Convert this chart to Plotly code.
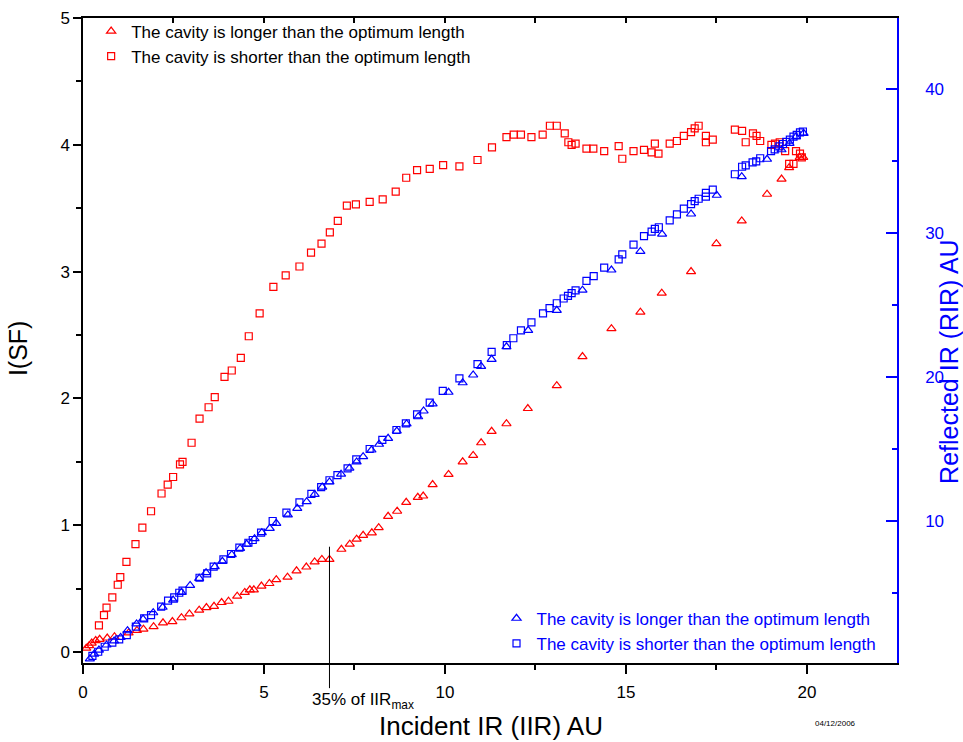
import plotly.graph_objects as go

# Incident IR (AU) and I(SF) for the cavity longer than the optimum length
long_iir_sf = [0.09, 0.17, 0.24, 0.35, 0.46, 0.67, 0.87, 1.26, 1.49, 1.67,
               1.95, 2.21, 2.47, 2.72, 2.94, 3.21, 3.41, 3.62, 3.83, 4.02,
               4.26, 4.47, 4.61, 4.72, 4.93, 5.15, 5.34, 5.65, 5.90, 6.17,
               6.40, 6.60, 6.81, 7.14, 7.37, 7.56, 7.74, 7.98, 8.17, 8.43,
               8.68, 8.93, 9.25, 9.40, 9.66, 10.10, 10.49, 10.78, 11.00, 11.29,
               11.70, 12.29, 13.09, 13.80, 14.60, 15.40, 15.99, 16.80, 17.50, 18.20,
               18.90, 19.30, 19.51, 19.80, 19.90]
long_sf = [0.03, 0.05, 0.07, 0.09, 0.10, 0.11, 0.12, 0.15, 0.17, 0.18,
           0.20, 0.23, 0.24, 0.27, 0.30, 0.33, 0.35, 0.36, 0.39, 0.40,
           0.44, 0.47, 0.49, 0.49, 0.52, 0.54, 0.57, 0.59, 0.64, 0.67,
           0.71, 0.73, 0.73, 0.81, 0.85, 0.89, 0.92, 0.94, 0.98, 1.07,
           1.11, 1.18, 1.22, 1.23, 1.32, 1.40, 1.50, 1.55, 1.65, 1.74,
           1.80, 1.92, 2.10, 2.33, 2.55, 2.68, 2.83, 3.00, 3.22, 3.40,
           3.61, 3.73, 3.82, 3.90, 3.90]

# Incident IR (AU) and I(SF) for the cavity shorter than the optimum length
short_iir_sf = [0.44, 0.58, 0.65, 0.81, 0.96, 1.03, 1.20, 1.45, 1.64, 1.88,
                2.17, 2.34, 2.49, 2.68, 2.75, 3.00, 3.22, 3.47, 3.64, 3.91,
                4.11, 4.36, 4.58, 4.88, 5.26, 5.60, 5.98, 6.30, 6.59, 6.82,
                7.04, 7.29, 7.54, 7.92, 8.28, 8.64, 8.93, 9.23, 9.58, 9.95,
                10.40, 10.90, 11.30, 11.70, 11.90, 12.10, 12.39, 12.70, 12.90, 13.09,
                13.31, 13.41, 13.50, 13.61, 13.91, 14.10, 14.40, 14.80, 14.90, 15.21,
                15.50, 15.71, 15.80, 15.90, 16.21, 16.41, 16.60, 16.80, 16.90, 17.01,
                17.21, 17.21, 17.40, 18.01, 18.21, 18.31, 18.51, 18.61, 18.71, 19.02,
                19.12, 19.25, 19.40, 19.51, 19.63, 19.70, 19.81, 19.86]
short_sf = [0.21, 0.29, 0.35, 0.43, 0.53, 0.59, 0.71, 0.85, 0.98, 1.11,
            1.25, 1.32, 1.38, 1.48, 1.50, 1.65, 1.84, 1.93, 2.01, 2.17,
            2.22, 2.32, 2.49, 2.67, 2.88, 2.97, 3.04, 3.15, 3.22, 3.31,
            3.40, 3.52, 3.53, 3.55, 3.57, 3.63, 3.74, 3.80, 3.81, 3.84,
            3.83, 3.88, 3.98, 4.06, 4.08, 4.08, 4.06, 4.08, 4.15, 4.15,
            4.09, 4.02, 4.00, 4.01, 3.97, 3.97, 3.95, 3.99, 3.89, 3.95,
            3.96, 3.94, 4.01, 3.93, 4.01, 4.03, 4.07, 4.10, 4.13, 4.15,
            4.07, 4.02, 4.04, 4.12, 4.11, 4.02, 4.09, 4.07, 4.03, 4.00,
            4.01, 4.02, 3.95, 3.85, 3.85, 3.95, 3.93, 3.90]

# Incident IR (AU) and reflected IR (AU), cavity longer than optimum
long_iir_rir = [0.19, 0.31, 0.44, 0.65, 0.86, 1.04, 1.23, 1.48, 1.66, 1.94,
                2.20, 2.49, 2.72, 2.96, 3.21, 3.40, 3.64, 3.85, 4.11, 4.34,
                4.52, 4.74, 4.94, 5.16, 5.34, 5.66, 5.92, 6.18, 6.40, 6.61,
                6.81, 7.13, 7.36, 7.56, 7.74, 7.97, 8.18, 8.43, 8.67, 8.94,
                9.26, 9.41, 9.66, 10.10, 10.49, 10.78, 11.00, 11.29, 11.70, 12.30,
                13.09, 13.80, 14.60, 15.40, 16.00, 16.80, 17.51, 18.20, 18.90, 19.30,
                19.52, 19.70, 19.91]
long_rir = [0.42, 0.76, 1.04, 1.39, 1.67, 1.92, 2.38, 2.85, 3.19, 3.63,
            4.01, 4.51, 5.05, 5.53, 6.02, 6.41, 6.83, 7.20, 7.66, 8.10,
            8.40, 8.77, 9.19, 9.49, 9.84, 10.42, 10.88, 11.34, 11.85, 12.36,
            12.71, 13.25, 13.67, 14.10, 14.47, 14.93, 15.33, 15.74, 16.25, 16.74,
            17.24, 17.64, 18.13, 18.94, 19.60, 20.14, 20.74, 21.23, 22.10, 23.24,
            24.63, 26.03, 27.43, 28.72, 29.92, 31.32, 32.62, 33.91, 35.12, 35.78,
            36.23, 36.67, 36.92]

# Incident IR (AU) and reflected IR (AU), cavity shorter than optimum
short_iir_rir = [0.26, 0.42, 0.60, 0.81, 1.00, 1.21, 1.46, 1.69, 1.88, 2.16,
                 2.35, 2.52, 2.66, 2.75, 3.22, 3.43, 3.61, 3.88, 4.09, 4.32,
                 4.57, 4.69, 4.92, 5.24, 5.62, 5.98, 6.31, 6.58, 6.81, 7.03,
                 7.31, 7.55, 7.92, 8.27, 8.66, 8.92, 9.23, 9.58, 9.94, 10.40,
                 10.90, 11.29, 11.71, 11.89, 12.10, 12.39, 12.71, 12.89, 13.09, 13.28,
                 13.40, 13.50, 13.61, 13.91, 14.11, 14.40, 14.80, 14.90, 15.21, 15.50,
                 15.71, 15.80, 15.91, 16.21, 16.41, 16.60, 16.80, 16.90, 17.01, 17.21,
                 17.21, 17.40, 18.01, 18.21, 18.31, 18.50, 18.60, 18.71, 19.01, 19.11,
                 19.24, 19.34, 19.43, 19.53, 19.63, 19.72, 19.81, 19.89]
short_rir = [0.63, 0.92, 1.27, 1.55, 1.78, 2.08, 2.66, 3.24, 3.47, 4.05,
             4.47, 4.70, 5.02, 5.16, 6.06, 6.37, 6.83, 7.34, 7.71, 8.15,
             8.49, 8.68, 9.19, 10.00, 10.58, 11.30, 11.88, 12.36, 12.83, 13.18,
             13.65, 14.28, 15.00, 15.63, 16.32, 16.78, 17.41, 18.22, 19.03, 19.91,
             20.90, 21.74, 22.22, 22.69, 23.24, 23.80, 24.42, 24.79, 25.12, 25.45,
             25.63, 25.83, 26.02, 26.68, 27.01, 27.60, 28.17, 28.51, 29.19, 29.78,
             30.09, 30.28, 30.40, 30.88, 31.30, 31.69, 32.00, 32.21, 32.38, 32.53,
             32.78, 33.01, 34.08, 34.60, 34.69, 34.91, 34.98, 35.19, 35.68, 35.81,
             36.02, 36.18, 36.33, 36.49, 36.69, 36.82, 36.99, 37.05]

label_long = "The cavity is longer than the optimum length"
label_short = "The cavity is shorter than the optimum length"

# Marker at 35 % of the maximum incident IR
iir_35pct = 6.81
iir_35pct_sf = 0.83

RED = "#FF0000"
BLUE = "#0000FF"
FONT = "Liberation Sans, Arial, sans-serif"

X_RANGE = [0, 22.49]
Y_RANGE = [-0.087, 5.0]
Y2_RANGE = [0.14, 44.93]

fig = go.Figure()

tri = dict(symbol="triangle-up-open", size=8, line=dict(width=1.2))
sq = dict(symbol="square-open", size=7, line=dict(width=1.2))

fig.add_trace(go.Scatter(x=long_iir_sf, y=long_sf, mode="markers", name=label_long,
                         marker=dict(color=RED, **tri), legend="legend"))
fig.add_trace(go.Scatter(x=short_iir_sf, y=short_sf, mode="markers", name=label_short,
                         marker=dict(color=RED, **sq), legend="legend"))
fig.add_trace(go.Scatter(x=long_iir_rir, y=long_rir, mode="markers", name=label_long,
                         marker=dict(color=BLUE, **tri), yaxis="y2", legend="legend2"))
fig.add_trace(go.Scatter(x=short_iir_rir, y=short_rir, mode="markers", name=label_short,
                         marker=dict(color=BLUE, **sq), yaxis="y2", legend="legend2"))
# empty trace so the top mirror axis is drawn
fig.add_trace(go.Scatter(x=[], y=[], xaxis="x2", showlegend=False, hoverinfo="skip"))

# vertical marker line at 35% of IIR max, running below the axis to its label
y1_paper = (iir_35pct_sf - Y_RANGE[0]) / (Y_RANGE[1] - Y_RANGE[0])
fig.add_shape(type="line", xref="x", yref="paper", x0=iir_35pct, x1=iir_35pct,
              y0=-0.039, y1=y1_paper, line=dict(color="black", width=1))

fig.add_annotation(text="35% of IIR<sub>max</sub>", xref="paper", yref="paper",
                   x=0.279, y=-0.038, xanchor="left", yanchor="top", showarrow=False,
                   font=dict(family=FONT, size=17, color="black"))
fig.add_annotation(text="Incident IR (IIR) AU", xref="paper", yref="paper",
                   x=0.501, y=-0.098, xanchor="center", yanchor="middle", showarrow=False,
                   font=dict(family=FONT, size=26, color="black"))
fig.add_annotation(text="I(SF)", xref="paper", yref="paper", textangle=-90,
                   x=-0.080, y=0.488, xanchor="center", yanchor="middle", showarrow=False,
                   font=dict(family=FONT, size=25, color="black"))
fig.add_annotation(text="Reflected IR (RIR) AU", xref="paper", yref="paper", textangle=-90,
                   x=1.064, y=0.467, xanchor="center", yanchor="middle", showarrow=False,
                   font=dict(family=FONT, size=25, color=BLUE))
fig.add_annotation(text="04/12/2006", xref="paper", yref="paper",
                   x=0.924, y=-0.094, xanchor="center", yanchor="middle", showarrow=False,
                   font=dict(family=FONT, size=8, color="black"))

axis_common = dict(showgrid=False, zeroline=False, showline=True, linewidth=1.5,
                   automargin=False)

fig.update_layout(
    width=963, height=742,
    margin=dict(l=83, r=66, t=18, b=79, autoexpand=False),
    paper_bgcolor="white", plot_bgcolor="white",
    font=dict(family=FONT, size=17, color="black"),
    xaxis=dict(range=X_RANGE, tickmode="linear", tick0=0, dtick=5,
               ticks="outside", ticklen=9, tickwidth=1.5, tickcolor="black",
               linecolor="black", tickfont=dict(size=17, color="black"),
               ticklabelstandoff=4,
               minor=dict(ticks="outside", ticklen=5, tickwidth=1.5, tickcolor="black",
                          tick0=0, dtick=2.5, showgrid=False),
               **axis_common),
    xaxis2=dict(overlaying="x", side="top", anchor="y", range=X_RANGE,
                tickmode="linear", tick0=0, dtick=2.5, ticks="inside", ticklen=5,
                tickwidth=1.5, tickcolor="black", linecolor="black",
                showticklabels=False, **axis_common),
    yaxis=dict(range=Y_RANGE, tickmode="linear", tick0=0, dtick=1,
               ticks="outside", ticklen=8, tickwidth=1.5, tickcolor="black",
               linecolor="black", tickfont=dict(size=17, color="black"),
               minor=dict(ticks="outside", ticklen=5, tickwidth=1.5, tickcolor="black",
                          tick0=0, dtick=0.5, showgrid=False),
               **axis_common),
    yaxis2=dict(overlaying="y", side="right", anchor="x", range=Y2_RANGE,
                tickmode="linear", tick0=0, dtick=10,
                ticks="inside", ticklen=11, tickwidth=1.5, tickcolor=BLUE,
                linecolor=BLUE, tickfont=dict(size=17, color=BLUE),
                ticklabelstandoff=23,
                minor=dict(ticks="inside", ticklen=5, tickwidth=1.5, tickcolor=BLUE,
                           tick0=0, dtick=5, showgrid=False),
                **axis_common),
    legend=dict(x=0.010, y=1.007, xanchor="left", yanchor="top",
                bgcolor="rgba(0,0,0,0)", borderwidth=0, tracegroupgap=0,
                font=dict(family=FONT, size=17, color="black")),
    legend2=dict(x=0.508, y=0.002, xanchor="left", yanchor="bottom",
                 bgcolor="rgba(0,0,0,0)", borderwidth=0, tracegroupgap=0,
                 font=dict(family=FONT, size=17, color=BLUE)),
)

fig.write_html("out.html")
